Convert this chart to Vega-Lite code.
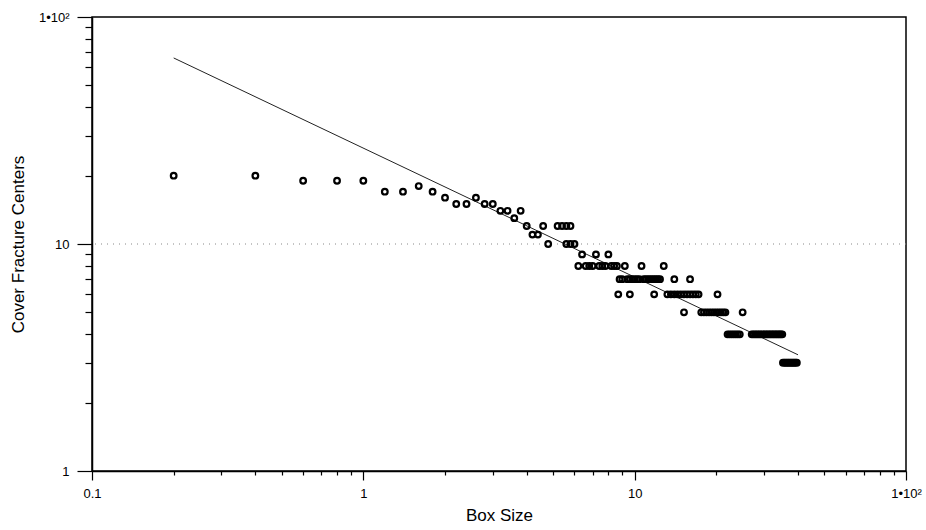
{
  "$schema": "https://vega.github.io/schema/vega-lite/v6.json",
  "width": 814,
  "height": 454,
  "autosize": {"type": "none"},
  "padding": {"left": 92, "top": 17, "right": 20, "bottom": 59},
  "background": "white",
  "config": {
    "view": {"stroke": "black", "strokeWidth": 1.5},
    "font": "Liberation Sans",
    "axis": {
      "grid": false,
      "domainColor": "black",
      "domainWidth": 1.5,
      "tickColor": "black",
      "tickWidth": 1.2,
      "labelColor": "black",
      "labelFont": "Liberation Sans",
      "labelFontSize": 13,
      "titleFont": "Liberation Sans",
      "titleFontSize": 17,
      "titleFontWeight": "normal",
      "titleColor": "black",
      "labelOverlap": false,
      "labelFlush": false
    }
  },
  "datasets": {
    "points": [
      {"x": 0.2, "y": 20}, {"x": 0.4, "y": 20},
      {"x": 0.6, "y": 19}, {"x": 0.8, "y": 19}, {"x": 1.0, "y": 19},
      {"x": 1.2, "y": 17}, {"x": 1.4, "y": 17}, {"x": 1.6, "y": 18}, {"x": 1.8, "y": 17},
      {"x": 2.0, "y": 16}, {"x": 2.2, "y": 15}, {"x": 2.4, "y": 15}, {"x": 2.6, "y": 16},
      {"x": 2.8, "y": 15}, {"x": 3.0, "y": 15},
      {"x": 3.2, "y": 14}, {"x": 3.4, "y": 14}, {"x": 3.6, "y": 13}, {"x": 3.8, "y": 14},
      {"x": 4.0, "y": 12}, {"x": 4.2, "y": 11}, {"x": 4.4, "y": 11}, {"x": 4.6, "y": 12},
      {"x": 4.8, "y": 10}, {"x": 5.2, "y": 12}, {"x": 5.4, "y": 12}, {"x": 5.6, "y": 12}, {"x": 5.8, "y": 12},
      {"x": 5.6, "y": 10}, {"x": 5.8, "y": 10}, {"x": 6.0, "y": 10},
      {"x": 6.4, "y": 9}, {"x": 7.2, "y": 9}, {"x": 8.0, "y": 9},
      {"x": 6.2, "y": 8}, {"x": 6.6, "y": 8}, {"x": 6.8, "y": 8}, {"x": 7.0, "y": 8}, {"x": 7.4, "y": 8},
      {"x": 7.6, "y": 8}, {"x": 7.8, "y": 8}, {"x": 8.2, "y": 8}, {"x": 8.4, "y": 8}, {"x": 8.6, "y": 8},
      {"x": 9.2, "y": 8}, {"x": 10.6, "y": 8}, {"x": 12.8, "y": 8},
      {"x": 8.8, "y": 7}, {"x": 9.0, "y": 7}, {"x": 9.4, "y": 7}, {"x": 9.6, "y": 7}, {"x": 9.8, "y": 7},
      {"x": 10.0, "y": 7}, {"x": 10.2, "y": 7}, {"x": 10.4, "y": 7}, {"x": 10.8, "y": 7}, {"x": 11.0, "y": 7},
      {"x": 11.2, "y": 7}, {"x": 11.4, "y": 7}, {"x": 11.6, "y": 7}, {"x": 11.8, "y": 7}, {"x": 12.0, "y": 7},
      {"x": 12.2, "y": 7}, {"x": 12.4, "y": 7}, {"x": 14.0, "y": 7}, {"x": 16.0, "y": 7},
      {"x": 8.7, "y": 6}, {"x": 9.6, "y": 6}, {"x": 11.8, "y": 6}, {"x": 13.2, "y": 6}, {"x": 13.6, "y": 6},
      {"x": 14.0, "y": 6}, {"x": 14.4, "y": 6}, {"x": 14.8, "y": 6}, {"x": 15.2, "y": 6}, {"x": 15.6, "y": 6},
      {"x": 16.0, "y": 6}, {"x": 16.4, "y": 6}, {"x": 16.8, "y": 6}, {"x": 17.2, "y": 6}, {"x": 20.2, "y": 6},
      {"x": 15.2, "y": 5}, {"x": 17.6, "y": 5}, {"x": 18.0, "y": 5}, {"x": 18.4, "y": 5}, {"x": 18.8, "y": 5},
      {"x": 19.2, "y": 5}, {"x": 19.6, "y": 5}, {"x": 20.0, "y": 5}, {"x": 20.4, "y": 5}, {"x": 20.8, "y": 5},
      {"x": 21.2, "y": 5}, {"x": 21.6, "y": 5}, {"x": 25.0, "y": 5},
      {"x": 22.0, "y": 4}, {"x": 22.4, "y": 4}, {"x": 22.8, "y": 4}, {"x": 23.2, "y": 4}, {"x": 23.6, "y": 4},
      {"x": 24.0, "y": 4}, {"x": 24.4, "y": 4},
      {"x": 27.0, "y": 4}, {"x": 27.4, "y": 4}, {"x": 27.8, "y": 4}, {"x": 28.2, "y": 4}, {"x": 28.6, "y": 4},
      {"x": 29.0, "y": 4}, {"x": 29.4, "y": 4}, {"x": 29.8, "y": 4}, {"x": 30.2, "y": 4}, {"x": 30.6, "y": 4},
      {"x": 31.0, "y": 4}, {"x": 31.4, "y": 4}, {"x": 31.8, "y": 4}, {"x": 32.2, "y": 4}, {"x": 32.6, "y": 4},
      {"x": 33.0, "y": 4}, {"x": 33.4, "y": 4}, {"x": 33.8, "y": 4}, {"x": 34.2, "y": 4}, {"x": 34.6, "y": 4},
      {"x": 35.0, "y": 4},
      {"x": 35.2, "y": 3}, {"x": 35.6, "y": 3}, {"x": 36.0, "y": 3}, {"x": 36.4, "y": 3}, {"x": 36.8, "y": 3},
      {"x": 37.2, "y": 3}, {"x": 37.6, "y": 3}, {"x": 38.0, "y": 3}, {"x": 38.4, "y": 3}, {"x": 38.8, "y": 3},
      {"x": 39.2, "y": 3}, {"x": 39.6, "y": 3}
    ],
    "fit": [
      {"x": 0.2, "y": 66},
      {"x": 40, "y": 3.25}
    ],
    "gridline": [
      {"y": 10}
    ]
  },
  "layer": [
    {
      "data": {"name": "gridline"},
      "mark": {"type": "rule", "color": "#888888", "strokeWidth": 1, "strokeDash": [1, 5]},
      "encoding": {
        "y": {"field": "y", "type": "quantitative", "title": "Cover Fracture Centers",
              "scale": {"type": "log", "domain": [1, 100], "nice": false}}
      }
    },
    {
      "data": {"name": "fit"},
      "mark": {"type": "line", "color": "#222222", "strokeWidth": 1},
      "encoding": {
        "x": {"field": "x", "type": "quantitative", "title": "Box Size",
              "scale": {"type": "log", "domain": [0.1, 100], "nice": false}},
        "y": {"field": "y", "type": "quantitative", "title": "Cover Fracture Centers",
              "scale": {"type": "log", "domain": [1, 100], "nice": false}}
      }
    },
    {
      "data": {"name": "points"},
      "mark": {"type": "point", "shape": "circle", "filled": false, "stroke": "black", "strokeWidth": 2.2, "size": 32, "opacity": 1},
      "encoding": {
        "x": {"field": "x", "type": "quantitative", "title": "Box Size",
              "scale": {"type": "log", "domain": [0.1, 100], "nice": false},
              "axis": {
                "values": [0.1, 0.2, 0.3, 0.4, 0.5, 0.6, 0.7, 0.8, 0.9, 1, 2, 3, 4, 5, 6, 7, 8, 9, 10, 20, 30, 40, 50, 60, 70, 80, 90, 100],
                "labelExpr": "datum.value == 0.1 ? '0.1' : datum.value == 1 ? '1' : datum.value == 10 ? '10' : datum.value == 100 ? '1•10²' : ''",
                "tickSize": {"condition": {"test": "datum.value == 0.1 || datum.value == 1 || datum.value == 10 || datum.value == 100", "value": 9}, "value": 4},
                "labelPadding": 7,
                "titlePadding": 7
              }},
        "y": {"field": "y", "type": "quantitative", "title": "Cover Fracture Centers",
              "scale": {"type": "log", "domain": [1, 100], "nice": false},
              "axis": {
                "values": [1, 2, 3, 4, 5, 6, 7, 8, 9, 10, 20, 30, 40, 50, 60, 70, 80, 90, 100],
                "labelExpr": "datum.value == 1 ? '1' : datum.value == 10 ? '10' : datum.value == 100 ? '1•10²' : ''",
                "tickSize": {"condition": {"test": "datum.value == 1 || datum.value == 10 || datum.value == 100", "value": 15}, "value": 7},
                "labelPadding": 8,
                "titlePadding": 11
              }}
      }
    }
  ]
}
